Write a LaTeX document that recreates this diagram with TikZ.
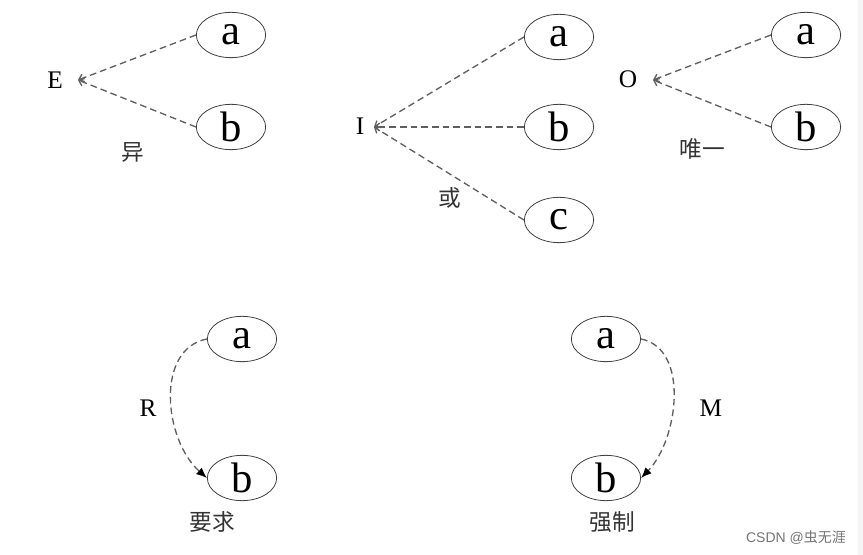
\documentclass[tikz,border=0pt]{standalone}
\usepackage{fontspec}
\setmainfont{Liberation Serif}
\newfontfamily\cjk{Noto Sans CJK SC}
\newfontfamily\wmfont{Liberation Sans}
\usetikzlibrary{shapes.geometric,arrows.meta}

\definecolor{linkgray}{RGB}{95,95,95}
\definecolor{stripgray}{RGB}{245,245,245}

\tikzset{
  ent/.style={ellipse,draw=black!75,line width=0.6pt,minimum width=52pt,minimum height=34pt,inner sep=0pt,font=\fontsize{32}{32}\selectfont},
  kind/.style={inner sep=0pt,font=\fontsize{19}{19}\selectfont},
  note/.style={inner sep=0pt,text=black!80,font=\cjk\fontsize{17}{17}\selectfont},
  link/.style={draw=linkgray,line width=1pt,dash pattern=on 5pt off 3pt},
  fan/.style={link,-{Straight Barb[length=3.5pt,width=6pt]}},
  need/.style={link,-{Latex[length=8pt,width=6.5pt,fill=black,color=black]}}
}

\begin{document}
\begin{tikzpicture}[x=0.75pt,y=0.75pt,yscale=-1,xscale=1]
\path[use as bounding box] (0,0) rectangle (863,555);
\fill[stripgray] (858,0) rectangle (863,555);

% E
\node[kind] (E) at (55,80) {E};
\coordinate (Etip) at (78,80);
\node[ent] (Ea) at (231,35) {a};
\node[ent] (Eb) at (231,127) {b};
\node[note] (Enote) at (133,152) {异};
\draw[fan] (Ea.west) -- (Etip);
\draw[fan] (Eb.west) -- (Etip);

% I
\node[kind] (I) at (360,126) {I};
\coordinate (Itip) at (374,127);
\node[ent] (Ia) at (559,37) {a};
\node[ent] (Ib) at (559,127) {b};
\node[ent] (Ic) at (559,220) {c};
\node[note] (Inote) at (450,198) {或};
\draw[fan] (Ia.west) -- (Itip);
\draw[fan] (Ib.west) -- (Itip);
\draw[fan] (Ic.west) -- (Itip);

% O
\node[kind] (O) at (628,79) {O};
\coordinate (Otip) at (653,80);
\node[ent] (Oa) at (806,35) {a};
\node[ent] (Ob) at (806,127) {b};
\node[note] (Onote) at (702,149) {唯一};
\draw[fan] (Oa.west) -- (Otip);
\draw[fan] (Ob.west) -- (Otip);

% R
\node[ent] (Ra) at (242,339) {a};
\node[ent] (Rb) at (242,478) {b};
\node[kind] (R) at (148,408) {R};
\node[note] (Rnote) at (212,522) {要求};
\draw[need] (Ra.west) .. controls +(-52,10) and +(-43,-38) .. (Rb.west);

% M
\node[ent] (Ma) at (606,339) {a};
\node[ent] (Mb) at (606,478) {b};
\node[kind] (M) at (711,408) {M};
\node[note] (Mnote) at (612,522) {强制};
\draw[need] (Ma.east) .. controls +(49,10) and +(37,-38) .. (Mb.east);

% watermark
\node[inner sep=0pt,text=black!55,font=\wmfont\fontsize{10.5}{10.5}\selectfont] (mark) at (796,538) {CSDN @{\cjk 虫无涯}};
\end{tikzpicture}
\end{document}
